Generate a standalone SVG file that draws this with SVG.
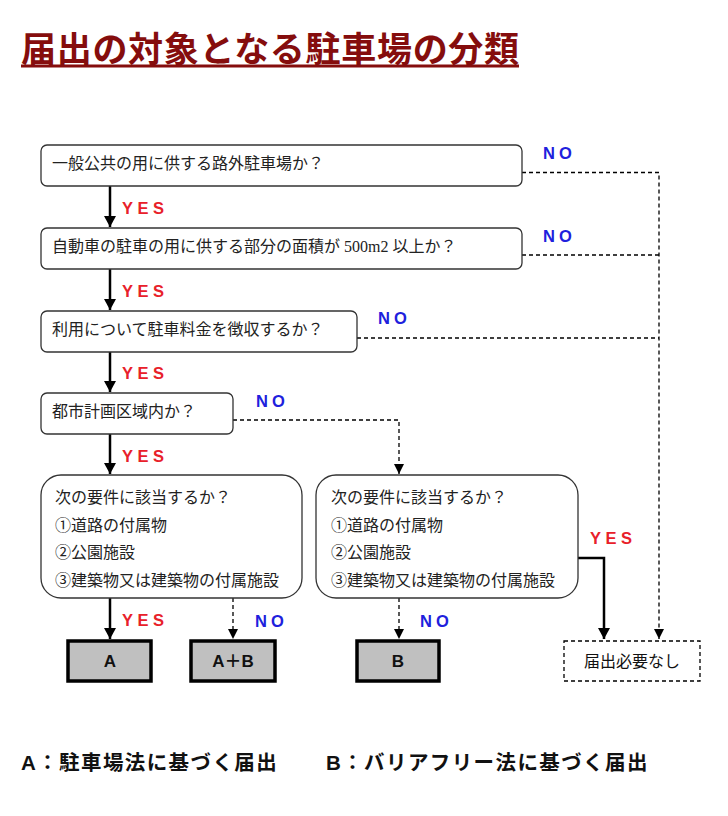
<svg xmlns="http://www.w3.org/2000/svg" width="728" height="816" viewBox="0 0 728 816">
<style>
.q{fill:#fff;stroke:#333;stroke-width:1.3}
.qt{font-family:"Liberation Serif","Noto Sans CJK JP",serif;font-size:16px;fill:#222}
.g{fill:#c0c0c0;stroke:#000;stroke-width:3.5}
.gt{font-family:"Liberation Sans","Noto Sans CJK JP",sans-serif;font-size:17px;font-weight:bold;fill:#111;text-anchor:middle}
.yes{font-family:"Liberation Sans",sans-serif;font-size:16.5px;font-weight:bold;fill:#e8202a;letter-spacing:4.5px}
.no{font-family:"Liberation Sans",sans-serif;font-size:16.5px;font-weight:bold;fill:#2020dd;letter-spacing:4px}
.s{fill:none;stroke:#000;stroke-width:2.5}
.d{fill:none;stroke:#000;stroke-width:1.3;stroke-dasharray:4 3}
.lg{font-family:"Liberation Sans","Noto Sans CJK JP",sans-serif;font-size:20.5px;font-weight:bold;fill:#111;letter-spacing:1.4px}
</style>
<defs>
<marker id="as" markerUnits="userSpaceOnUse" markerWidth="12" markerHeight="12" refX="11" refY="6" orient="auto" viewBox="0 0 12 12">
<polygon points="0,0 11,6 0,12" fill="#000"/>
</marker>
<marker id="ad" markerUnits="userSpaceOnUse" markerWidth="10" markerHeight="10" refX="10" refY="5" orient="auto" viewBox="0 0 10 10">
<polygon points="0,0 10,5 0,10" fill="#000"/>
</marker>
</defs>
<rect width="728" height="816" fill="#fff"/>
<g id="title">
<text x="21" y="62" font-family="Liberation Sans,'Noto Sans CJK JP',sans-serif" font-size="35" font-weight="bold" fill="#850d0d" letter-spacing="0.7">届出の対象となる駐車場の分類</text>
<rect x="21" y="64.5" width="498" height="3" fill="#850d0d"/>
</g>
<g id="connectors">
<line class="s" x1="110" y1="186" x2="110" y2="227" marker-end="url(#as)"/>
<line class="s" x1="110" y1="269" x2="110" y2="310" marker-end="url(#as)"/>
<line class="s" x1="110" y1="352" x2="110" y2="392" marker-end="url(#as)"/>
<line class="s" x1="110" y1="434" x2="110" y2="474" marker-end="url(#as)"/>
<line class="s" x1="110" y1="598" x2="110" y2="639" marker-end="url(#as)"/>
<polyline class="s" points="578,558 604,558 604,639" marker-end="url(#as)"/>
<line class="d" x1="233" y1="598" x2="233" y2="639" marker-end="url(#ad)"/>
<line class="d" x1="399" y1="598" x2="399" y2="639" marker-end="url(#ad)"/>
<polyline class="d" points="233,420 399,420 399,474" marker-end="url(#ad)"/>
<polyline class="d" points="522,172.5 659,172.5 659,639" marker-end="url(#ad)"/>
<line class="d" x1="522" y1="255" x2="659" y2="255"/>
<line class="d" x1="357" y1="338" x2="659" y2="338"/>
<text class="yes" x="122" y="214">YES</text>
<text class="yes" x="122" y="297">YES</text>
<text class="yes" x="122" y="379">YES</text>
<text class="yes" x="122" y="462">YES</text>
<text class="yes" x="122" y="626">YES</text>
<text class="yes" x="590" y="544">YES</text>
<text class="no" x="543" y="159">NO</text>
<text class="no" x="543" y="242">NO</text>
<text class="no" x="378" y="324">NO</text>
<text class="no" x="256" y="407">NO</text>
<text class="no" x="255" y="627">NO</text>
<text class="no" x="420" y="627">NO</text>
</g>
<g id="q1">
<rect class="q" x="41" y="145" width="481" height="41" rx="6"/>
<text class="qt" x="52" y="169">一般公共の用に供する路外駐車場か？</text>
</g>
<g id="q2">
<rect class="q" x="41" y="228" width="481" height="41" rx="6"/>
<text class="qt" x="52" y="252">自動車の駐車の用に供する部分の面積が 500m2 以上か？</text>
</g>
<g id="q3">
<rect class="q" x="41" y="311" width="316" height="41" rx="6"/>
<text class="qt" x="52" y="335">利用について駐車料金を徴収するか？</text>
</g>
<g id="q4">
<rect class="q" x="41" y="393" width="192" height="41" rx="6"/>
<text class="qt" x="52" y="417">都市計画区域内か？</text>
</g>
<g id="q5">
<rect class="q" x="41" y="475" width="261" height="123" rx="20"/>
<text class="qt" x="55" y="503">次の要件に該当するか？</text>
<text class="qt" x="55" y="531">①道路の付属物</text>
<text class="qt" x="55" y="558">②公園施設</text>
<text class="qt" x="55" y="586">③建築物又は建築物の付属施設</text>
</g>
<g id="q6">
<rect class="q" x="316" y="475" width="262" height="123" rx="20"/>
<text class="qt" x="331" y="503">次の要件に該当するか？</text>
<text class="qt" x="331" y="531">①道路の付属物</text>
<text class="qt" x="331" y="558">②公園施設</text>
<text class="qt" x="331" y="586">③建築物又は建築物の付属施設</text>
</g>
<g id="rA">
<rect class="g" x="68" y="641" width="83" height="40"/>
<text class="gt" x="110" y="667">A</text>
</g>
<g id="rAB">
<rect class="g" x="191" y="641" width="84" height="40"/>
<text class="gt" x="233" y="667">A＋B</text>
</g>
<g id="rB">
<rect class="g" x="357" y="641" width="82" height="40"/>
<text class="gt" x="398" y="667">B</text>
</g>
<g id="rNone">
<rect x="564" y="641" width="136" height="40" fill="#fff" stroke="#000" stroke-width="1.3" stroke-dasharray="4 3"/>
<text x="632" y="667" font-family="'Noto Sans CJK JP',sans-serif" font-size="16" fill="#111" text-anchor="middle">届出必要なし</text>
</g>
<g id="legend">
<text class="lg" x="21" y="770">A：駐車場法に基づく届出</text>
<text class="lg" x="326" y="770">B：バリアフリー法に基づく届出</text>
</g>
</svg>
